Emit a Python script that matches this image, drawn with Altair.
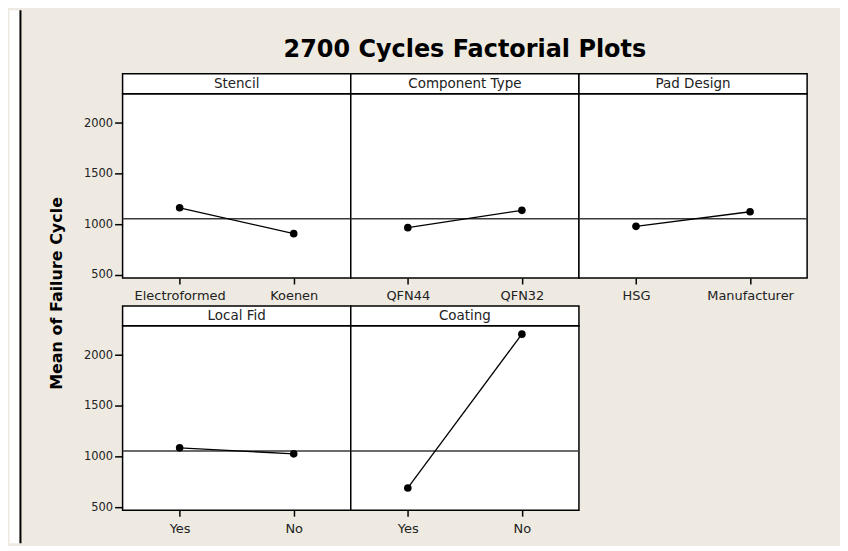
import altair as alt
import pandas as pd

# ---- data ----
chart_title = "2700 Cycles Factorial Plots"
y_title = "Mean of Failure Cycle"
factors = ["Stencil", "Component Type", "Pad Design", "Local Fid", "Coating"]
level_a = ["Electroformed", "QFN44", "HSG", "Yes", "Yes"]
level_b = ["Koenen", "QFN32", "Manufacturer", "No", "No"]
mean_a = [1163, 967, 980, 1085, 689]
mean_b = [908, 1138, 1124, 1026, 2208]
grand_mean = 1055
y_ticks = [500, 1000, 1500, 2000]
y_domain = [470, 2290]

FONT = "DejaVu Sans"
BG = "#EEEAE1"
W = 229
PH = 185
HH = 20
VIEW_TOP = 91.7   # page y of the first row's plot top
VIEW_LEFT = 121.5  # page x of the first column's plot left


def panel(i, show_y, with_title, extras=()):
    order = [level_a[i], level_b[i]]
    df = pd.DataFrame({"level": order, "mean": [mean_a[i], mean_b[i]]})
    xenc = alt.X(
        "level:N",
        sort=order,
        scale=alt.Scale(type="point", padding=0.5),
        axis=alt.Axis(
            title=None, labelAngle=0, domain=False, grid=False,
            tickSize=6, tickWidth=1.5, tickColor="black",
            labelPadding=6, labelFontSize=13, labelFont=FONT, labelColor="#222",
        ),
    )
    if show_y:
        ax = dict(
            values=y_ticks, format="d", domain=False, grid=False,
            tickSize=8, tickWidth=1.5, tickColor="black",
            labelPadding=2, labelFontSize=11.5, labelFont=FONT, labelColor="#222",
        )
        if with_title:
            ax.update(
                title=y_title, titleX=-66, titleY=200, titleAngle=270,
                titleAlign="center", titleBaseline="middle",
                titleFontSize=16, titleFontWeight="bold", titleFont=FONT,
                titleColor="black",
            )
        else:
            ax.update(title=None)
        yaxis = alt.Axis(**ax)
    else:
        yaxis = None
    yscale = alt.Scale(domain=y_domain, nice=False, zero=False)
    base = alt.Chart(df)
    line = base.mark_line(color="black", strokeWidth=1.3).encode(
        x=xenc, y=alt.Y("mean:Q", scale=yscale, axis=yaxis)
    )
    pts = base.mark_circle(size=58, color="black", opacity=1).encode(
        x=xenc, y=alt.Y("mean:Q", scale=yscale, axis=yaxis)
    )
    ref = alt.Chart(pd.DataFrame({"mean": [grand_mean]})).mark_rule(
        color="#3a3a3a", strokeWidth=1.5
    ).encode(y=alt.Y("mean:Q", scale=yscale, axis=yaxis))

    hdf = alt.Chart(pd.DataFrame({"name": [factors[i]]}))
    head_box = hdf.mark_rect(fill="white", stroke="black", strokeWidth=1.5).encode(
        x=alt.value(0), x2=alt.value(W), y=alt.value(-HH), y2=alt.value(0)
    )
    head_txt = hdf.mark_text(
        fontSize=13.5, font=FONT, color="#222", baseline="middle", align="center"
    ).encode(text="name:N", x=alt.value(W / 2), y=alt.value(-HH / 2))

    layers = list(extras) + [head_box, head_txt, ref, line, pts]
    return alt.layer(*layers).properties(
        width=W, height=PH,
        view=alt.ViewBackground(fill="white", stroke="black", strokeWidth=1.5),
    )


dummy = alt.Chart(pd.DataFrame({"v": [0]}))
# outer frame: white margin strip and black left border line
white_strip = dummy.mark_rect(fill="white", strokeWidth=0).encode(
    x=alt.value(8 - VIEW_LEFT), x2=alt.value(18 - VIEW_LEFT),
    y=alt.value(8 - VIEW_TOP), y2=alt.value(543 - VIEW_TOP),
)
black_line = dummy.mark_rect(fill="black", strokeWidth=0).encode(
    x=alt.value(18 - VIEW_LEFT), x2=alt.value(20 - VIEW_LEFT),
    y=alt.value(8 - VIEW_TOP), y2=alt.value(543 - VIEW_TOP),
)
title_mark = alt.Chart(pd.DataFrame({"t": [chart_title]})).mark_text(
    fontSize=24, fontWeight="bold", font=FONT, color="black",
    baseline="alphabetic", align="center",
).encode(text="t:N", x=alt.value(W / 2), y=alt.value(55 - VIEW_TOP))

panels = [
    panel(0, True, True, extras=(white_strip, black_line)),
    panel(1, False, False, extras=(title_mark,)),
    panel(2, False, False),
    panel(3, True, False),
    panel(4, False, False),
]

chart = alt.concat(
    *panels, columns=3, spacing=alt.RowColnumber(row=48, column=0), bounds="flush"
).properties(
    background=BG,
    padding={"left": 0, "top": 0, "right": 31, "bottom": 0},
).configure_view(stroke="transparent")

chart.save("out.html", embed_options={"renderer": "svg", "actions": False})
